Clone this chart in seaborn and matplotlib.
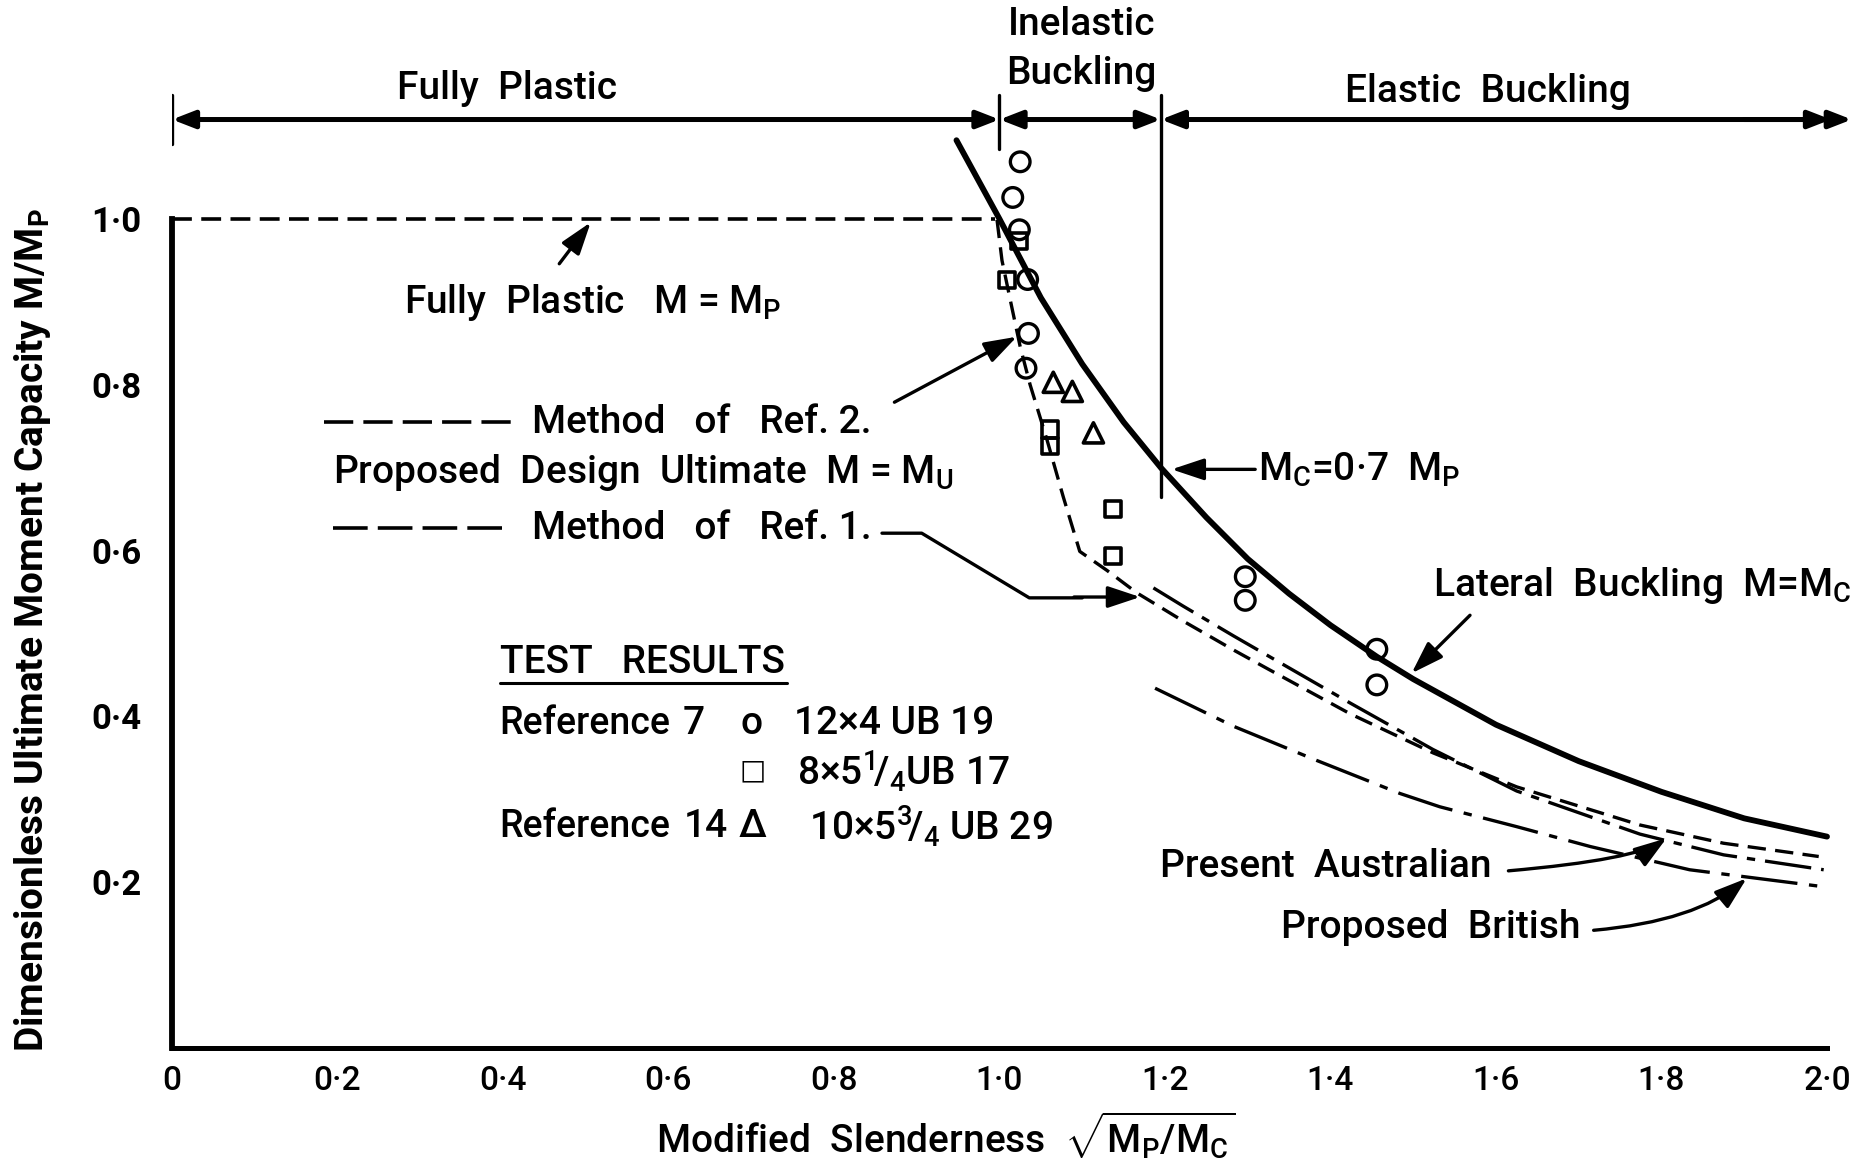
import matplotlib
matplotlib.use("Agg")
import matplotlib.pyplot as plt
import seaborn as sns

# ---------------- data ----------------
lateral_x = [0.948, 1.0, 1.05, 1.1, 1.15, 1.195, 1.25, 1.3, 1.35, 1.4, 1.456, 1.5, 1.6, 1.7, 1.8, 1.9, 2.0]
lateral_y = [1.095, 1.00, 0.905, 0.825, 0.755, 0.70, 0.64, 0.59, 0.548, 0.51, 0.472, 0.445, 0.39, 0.346, 0.309, 0.277, 0.255]

plastic_x = [0.0, 0.995]
plastic_y = [1.0, 1.0]

ref2_x = [0.997, 1.003, 1.015, 1.025, 1.037, 1.057, 1.077, 1.097, 1.13, 1.166, 1.222, 1.283, 1.323,
          1.424, 1.524, 1.625, 1.774, 1.875, 1.99]
ref2_y = [0.999, 0.95, 0.893, 0.846, 0.80, 0.735, 0.665, 0.599, 0.576, 0.549, 0.515, 0.48, 0.458,
          0.403, 0.356, 0.315, 0.269, 0.247, 0.231]

aus_x = [1.186, 1.222, 1.283, 1.323, 1.424, 1.524, 1.625, 1.774, 1.875, 1.996]
aus_y = [0.555, 0.533, 0.497, 0.474, 0.416, 0.36, 0.31, 0.258, 0.233, 0.215]

brit_x = [1.188, 1.283, 1.383, 1.484, 1.532, 1.625, 1.714, 1.834, 2.0]
brit_y = [0.434, 0.388, 0.347, 0.307, 0.291, 0.267, 0.243, 0.215, 0.194]

circ_x = [1.025, 1.016, 1.024, 1.034, 1.035, 1.032, 1.297, 1.297, 1.456, 1.456]
circ_y = [1.069, 1.026, 0.987, 0.927, 0.862, 0.820, 0.5685, 0.540, 0.481, 0.438]
sq_x = [1.024, 1.0095, 1.061, 1.061, 1.1376, 1.137]
sq_y = [0.973, 0.926, 0.746, 0.726, 0.650, 0.594]
tri_x = [1.065, 1.088, 1.1135]
tri_y = [0.803, 0.792, 0.742]

x_ticks = [0, 0.2, 0.4, 0.6, 0.8, 1.0, 1.2, 1.4, 1.6, 1.8, 2.0]
x_labels = ["0", "0·2", "0·4", "0·6", "0·8", "1·0", "1·2", "1·4", "1·6", "1·8", "2·0"]
y_ticks = [0.2, 0.4, 0.6, 0.8, 1.0]
y_labels = ["0·2", "0·4", "0·6", "0·8", "1·0"]

# ---------------- figure ----------------
sns.set_style("white")
K = "black"
plt.rcParams["font.family"] = ["Roboto", "DejaVu Sans"]
plt.rcParams["mathtext.fontset"] = "custom"
plt.rcParams["mathtext.rm"] = "Roboto"
plt.rcParams["mathtext.it"] = "Roboto:italic"
plt.rcParams["mathtext.bf"] = "Roboto:bold"
plt.rcParams["mathtext.default"] = "regular"
for k in ["text.color", "axes.labelcolor", "xtick.color", "ytick.color", "axes.edgecolor"]:
    plt.rcParams[k] = K

W, H = 1865, 1159
fig = plt.figure(figsize=(W / 100, H / 100), dpi=100)
px_x0, px_unit_x = 172, 827.5
px_y0, px_unit_y = 1048, 829
xmax, ymax = 2.045, 1.26
ax = fig.add_axes([px_x0 / W, (H - px_y0) / H, xmax * px_unit_x / W, ymax * px_unit_y / H])
ax.set_xlim(0, xmax)
ax.set_ylim(0, ymax)

FS = 28
WT = 500

sns.lineplot(x=lateral_x, y=lateral_y, ax=ax, color=K, lw=4.2, sort=False, estimator=None)
sns.lineplot(x=plastic_x, y=plastic_y, ax=ax, color=K, lw=2.6, sort=False, estimator=None,
             linestyle=(0, (5.5, 2.6)))
sns.lineplot(x=ref2_x, y=ref2_y, ax=ax, color=K, lw=2.4, sort=False, estimator=None,
             linestyle=(0, (5.5, 2.8)))
sns.lineplot(x=aus_x, y=aus_y, ax=ax, color=K, lw=2.4, sort=False, estimator=None,
             linestyle=(0, (14, 3, 2.5, 3)))
sns.lineplot(x=brit_x, y=brit_y, ax=ax, color=K, lw=2.4, sort=False, estimator=None,
             linestyle=(0, (17, 3.5, 2.5, 3.5)))

sns.scatterplot(x=circ_x, y=circ_y, ax=ax, marker="o", s=200, facecolors="none",
                edgecolor=K, linewidth=2.4, zorder=5)
sns.scatterplot(x=sq_x, y=sq_y, ax=ax, marker="s", s=135, facecolors="none",
                edgecolor=K, linewidth=2.6, zorder=5)
sns.scatterplot(x=tri_x, y=tri_y, ax=ax, marker="^", s=210, facecolors="none",
                edgecolor=K, linewidth=2.6, zorder=5)

# ---------------- axes styling ----------------
for s in ["top", "right"]:
    ax.spines[s].set_visible(False)
ax.spines["left"].set_bounds(0, 1.0)
ax.spines["bottom"].set_bounds(0, 2.0)
ax.spines["left"].set_linewidth(4.2)
ax.spines["bottom"].set_linewidth(3.6)
ax.set_xticks(x_ticks)
ax.set_xticklabels(x_labels, fontsize=24, fontweight=WT)
ax.set_yticks(y_ticks)
ax.set_yticklabels(y_labels, fontsize=25, fontweight="bold")
ax.tick_params(axis="x", direction="in", length=13, width=2.2, pad=12)
ax.tick_params(axis="y", direction="in", length=11, width=2.4, pad=22)

fig.text(946 / W, 1 - 1136 / H, r"Modified  Slenderness  $\sqrt{M_P/M_C}$", fontsize=FS,
         fontweight=WT, ha="center", va="center")
fig.text(33 / W, 1 - 630 / H, "Dimensionless Ultimate Moment Capacity M/M$_P$", fontsize=28,
         ha="center", va="center", rotation=90, fontweight="bold")

# ---------------- top region arrows ----------------
ytop = 1.12
head = dict(arrowstyle="<|-|>,head_length=0.9,head_width=0.35", lw=3.6, color=K,
            shrinkA=0, shrinkB=0, mutation_scale=15)
for a, b in [(0.0, 1.0), (1.0, 1.195), (1.195, 2.03)]:
    ax.annotate("", xy=(b, ytop), xytext=(a, ytop), arrowprops=head, annotation_clip=False)
ax.annotate("", xy=(2.03, ytop), xytext=(1.9, ytop),
            arrowprops=dict(arrowstyle="-|>,head_length=0.9,head_width=0.35", lw=3.6, color=K,
                            shrinkA=0, shrinkB=15, mutation_scale=15))
ax.plot([0, 0], [1.09, 1.15], color=K, lw=2.4)
ax.plot([1.0, 1.0], [1.085, 1.15], color=K, lw=2.4)
ax.plot([1.195, 1.195], [0.665, 1.15], color=K, lw=2.4)

ax.text(0.405, 1.157, "Fully  Plastic", fontsize=FS, fontweight=WT, ha="center", va="center")
ax.text(1.099, 1.235, "Inelastic", fontsize=FS, fontweight=WT, ha="center", va="center")
ax.text(1.099, 1.175, "Buckling", fontsize=FS, fontweight=WT, ha="center", va="center")
ax.text(1.59, 1.154, "Elastic  Buckling", fontsize=FS, fontweight=WT, ha="center", va="center")

# ---------------- annotations ----------------
arr = dict(arrowstyle="-|>,head_length=0.9,head_width=0.3", lw=2.4, color=K,
           shrinkA=0, shrinkB=0, mutation_scale=22)
tk = dict(fontsize=FS, fontweight=WT, va="center")

ax.text(0.280, 0.899, "Fully  Plastic   M = M$_P$", ha="left", **tk)
ax.annotate("", xy=(0.506, 0.996), xytext=(0.468, 0.946), arrowprops=arr)

ax.plot([0.184, 0.41], [0.755, 0.755], color=K, lw=2.6, linestyle=(0, (8.1, 2.8)))
ax.text(0.435, 0.755, "Method   of   Ref. 2.", ha="left", **tk)
ax.annotate("", xy=(1.021, 0.858), xytext=(0.873, 0.779), arrowprops=arr)

ax.text(0.195, 0.694, "Proposed  Design  Ultimate  M = M$_U$", ha="left", **tk)

ax.plot([0.195, 0.403], [0.627, 0.627], color=K, lw=2.6, linestyle=(0, (9.6, 2.8)))
ax.text(0.435, 0.627, "Method   of   Ref. 1.", ha="left", **tk)
ax.plot([0.858, 0.906, 1.036, 1.10], [0.621, 0.621, 0.543, 0.543], color=K, lw=2.4)
ax.annotate("", xy=(1.170, 0.544), xytext=(1.09, 0.544), arrowprops=arr)

ax.text(0.396, 0.465, "TEST   RESULTS", ha="left", **tk)
ax.plot([0.396, 0.743], [0.4407, 0.4407], color=K, lw=2.2)
ax.text(0.396, 0.392, "Reference", ha="left", fontsize=27, fontweight=WT, va="center")
ax.text(0.630, 0.392, "7", ha="center", **tk)
ax.text(0.70, 0.392, "o", ha="center", **tk)
ax.text(0.752, 0.392, "12×4 UB 19", ha="left", **tk)
ax.text(0.702, 0.334, "□", fontsize=FS - 8, ha="center", va="center")
ax.text(0.755, 0.334, r"8×5$^1\!/_4$UB 17", ha="left", **tk)
ax.text(0.396, 0.267, "Reference", ha="left", fontsize=27, fontweight=WT, va="center")
ax.text(0.645, 0.267, "14", ha="center", **tk)
ax.text(0.702, 0.267, "Δ", ha="center", **tk)
ax.text(0.77, 0.267, r"10×5$^3\!/_4$ UB 29", ha="left", **tk)

ax.text(1.312, 0.698, "M$_C$=0·7  M$_P$", ha="left", **tk)
ax.annotate("", xy=(1.208, 0.698), xytext=(1.309, 0.698), arrowprops=arr)

ax.text(1.524, 0.5585, "Lateral  Buckling  M=M$_C$", ha="left", **tk)
ax.annotate("", xy=(1.498, 0.452), xytext=(1.5686, 0.522), arrowprops=arr)

ax.text(1.194, 0.2195, "Present  Australian", ha="left", **tk)
ax.annotate("", xy=(1.806, 0.253), xytext=(1.615, 0.2137),
            arrowprops=dict(arr, connectionstyle="angle3,angleA=5,angleB=35"))
ax.text(1.34, 0.1448, "Proposed  British", ha="left", **tk)
ax.annotate("", xy=(1.903, 0.2047), xytext=(1.718, 0.142),
            arrowprops=dict(arr, connectionstyle="angle3,angleA=5,angleB=40"))

fig.savefig("out.png", dpi=100)
